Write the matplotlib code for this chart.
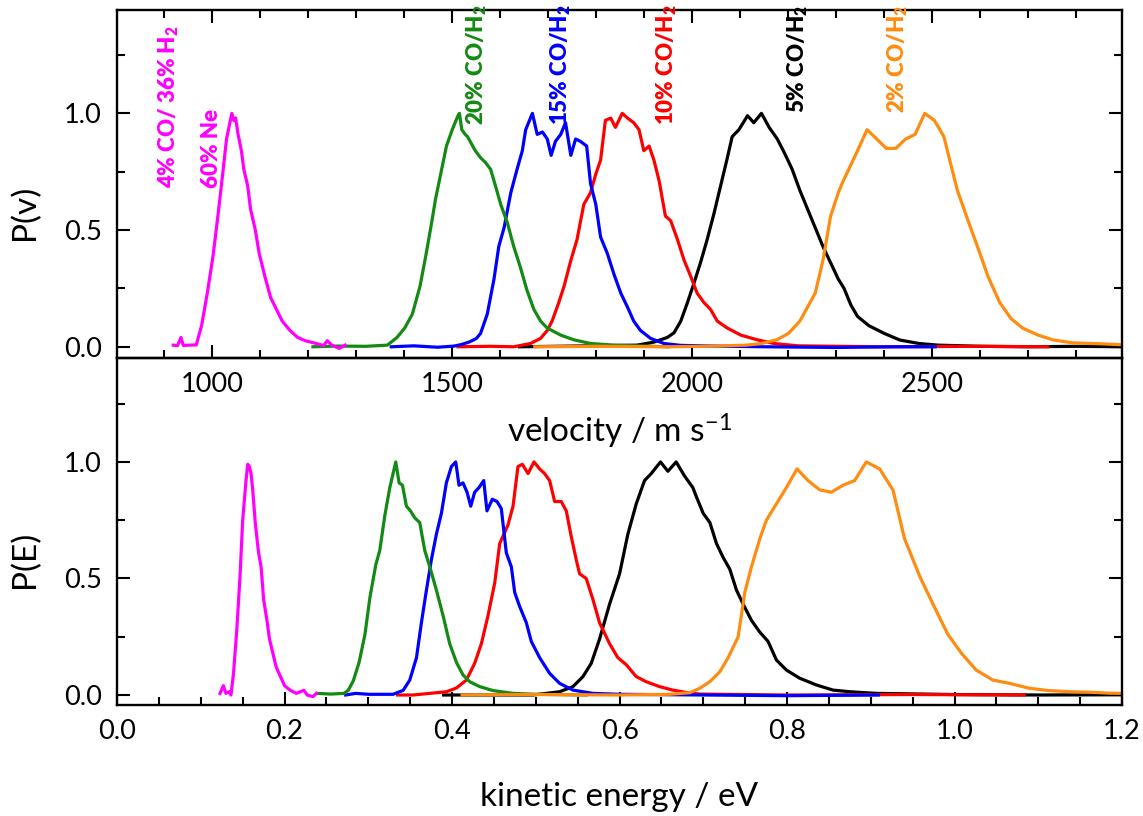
import numpy as np
import matplotlib
matplotlib.use("Agg")
import matplotlib.pyplot as plt
from matplotlib.ticker import MultipleLocator

plt.rcParams['font.family'] = ['Lato', 'DejaVu Sans']
plt.rcParams['mathtext.fontset'] = 'custom'
plt.rcParams['mathtext.rm'] = 'Lato'
plt.rcParams['mathtext.bf'] = 'Lato:heavy'
plt.rcParams['mathtext.it'] = 'Lato:italic'

# velocity distributions, (v [m/s], P(v)) pairs
pv_ne = np.array([
    (919, 0.007), (928, 0.005), (935, 0.04), (940, 0.006), (967, 0.008), (978, 0.09),
    (990, 0.23), (1002, 0.39), (1012, 0.56), (1022, 0.74), (1030, 0.89), (1037, 0.96),
    (1041, 1.0), (1045, 0.97), (1049, 0.98), (1054, 0.91), (1061, 0.84), (1066, 0.76),
    (1074, 0.69), (1080, 0.59), (1090, 0.50), (1098, 0.40), (1110, 0.30), (1122, 0.21),
    (1134, 0.16), (1146, 0.11), (1162, 0.07), (1178, 0.04), (1194, 0.026), (1217, 0.014),
    (1232, 0.005), (1240, 0.026), (1249, 0.007), (1265, -0.007), (1277, 0.007)])
pv_20 = np.array([
    (1210, 0.0), (1260, 0.003), (1320, 0.002), (1365, 0.007), (1385, 0.04), (1401, 0.08),
    (1417, 0.14), (1433, 0.26), (1445, 0.39), (1457, 0.53), (1465, 0.63), (1476, 0.74),
    (1488, 0.86), (1500, 0.93), (1512, 0.99), (1515, 1.0), (1520, 0.93), (1527, 0.91),
    (1532, 0.90), (1540, 0.87), (1548, 0.84), (1559, 0.81), (1569, 0.79), (1580, 0.76),
    (1590, 0.69), (1601, 0.61), (1615, 0.53), (1628, 0.43), (1642, 0.34), (1656, 0.24),
    (1670, 0.16), (1684, 0.11), (1698, 0.08), (1726, 0.05), (1753, 0.03), (1788, 0.014),
    (1837, 0.007), (1900, 0.003), (1950, 0.0)])
pv_15 = np.array([
    (1373, 0.0), (1420, 0.004), (1470, -0.002), (1504, 0.003), (1520, 0.01), (1535, 0.02),
    (1550, 0.035), (1559, 0.057), (1573, 0.14), (1587, 0.29), (1597, 0.43), (1608, 0.51),
    (1622, 0.66), (1635, 0.76), (1646, 0.84), (1653, 0.93), (1667, 1.0), (1677, 0.91),
    (1688, 0.92), (1698, 0.89), (1706, 0.82), (1715, 0.88), (1726, 0.91), (1736, 0.96),
    (1747, 0.82), (1757, 0.89), (1767, 0.88), (1780, 0.86), (1788, 0.70), (1799, 0.61),
    (1809, 0.47), (1823, 0.40), (1837, 0.31), (1851, 0.23), (1865, 0.17), (1878, 0.11),
    (1892, 0.07), (1913, 0.036), (1941, 0.014), (1976, 0.006), (2045, 0.003), (2150, 0.0),
    (2300, -0.003), (2420, 0.0), (2506, 0.0)])
pv_10 = np.array([
    (1512, 0.0), (1580, 0.002), (1628, 0.0), (1663, 0.014), (1684, 0.036), (1698, 0.07),
    (1708, 0.11), (1722, 0.19), (1733, 0.26), (1747, 0.37), (1760, 0.46), (1774, 0.61),
    (1788, 0.66), (1799, 0.74), (1809, 0.80), (1819, 0.97), (1830, 0.98), (1840, 0.94),
    (1854, 1.0), (1865, 0.98), (1878, 0.96), (1889, 0.93), (1899, 0.84), (1910, 0.86),
    (1920, 0.80), (1931, 0.71), (1944, 0.56), (1955, 0.54), (1969, 0.46), (1983, 0.37),
    (1997, 0.30), (2010, 0.23), (2024, 0.19), (2038, 0.16), (2052, 0.11), (2073, 0.08),
    (2101, 0.05), (2135, 0.03), (2170, 0.014), (2221, 0.004), (2400, 0.0), (2600, 0.002),
    (2740, 0.0)])
pv_5 = np.array([
    (1640, 0.0), (1750, 0.003), (1885, 0.007), (1920, 0.02), (1948, 0.04), (1962, 0.06),
    (1976, 0.11), (1990, 0.19), (2003, 0.27), (2017, 0.36), (2031, 0.46), (2045, 0.57),
    (2059, 0.69), (2073, 0.81), (2083, 0.90), (2097, 0.93), (2115, 0.99), (2128, 0.96),
    (2144, 1.0), (2160, 0.94), (2177, 0.89), (2192, 0.83), (2208, 0.76), (2224, 0.67),
    (2240, 0.59), (2256, 0.51), (2272, 0.43), (2288, 0.36), (2304, 0.29), (2316, 0.25),
    (2330, 0.18), (2344, 0.13), (2368, 0.09), (2400, 0.057), (2432, 0.029), (2472, 0.014),
    (2512, 0.007), (2600, 0.002), (2700, 0.0), (2800, 0.002), (2895, 0.0)])
pv_2 = np.array([
    (1672, 0.0), (1800, 0.002), (1950, 0.0), (2050, 0.003), (2112, 0.007), (2144, 0.014),
    (2176, 0.03), (2200, 0.057), (2224, 0.11), (2240, 0.17), (2256, 0.23), (2272, 0.37),
    (2288, 0.56), (2304, 0.66), (2312, 0.70), (2328, 0.77), (2344, 0.84), (2364, 0.93),
    (2384, 0.89), (2404, 0.85), (2424, 0.85), (2444, 0.89), (2464, 0.91), (2484, 1.0),
    (2504, 0.97), (2524, 0.90), (2536, 0.80), (2552, 0.67), (2576, 0.53), (2592, 0.44),
    (2616, 0.30), (2640, 0.19), (2664, 0.12), (2688, 0.08), (2720, 0.05), (2752, 0.029),
    (2792, 0.017), (2832, 0.014), (2872, 0.011), (2905, 0.007)])

# energy distributions, (E [eV], P(E)) pairs
pe_ne = np.array([
    (0.123, 0.007), (0.127, 0.04), (0.130, 0.007), (0.134, 0.014), (0.136, 0.0),
    (0.139, 0.09), (0.143, 0.28), (0.147, 0.52), (0.150, 0.75), (0.154, 0.92),
    (0.156, 0.99), (0.158, 0.98), (0.160, 0.95), (0.162, 0.88), (0.165, 0.74),
    (0.169, 0.61), (0.172, 0.55), (0.175, 0.41), (0.179, 0.32), (0.182, 0.24),
    (0.186, 0.18), (0.190, 0.12), (0.195, 0.08), (0.200, 0.04), (0.207, 0.02),
    (0.214, 0.007), (0.223, 0.02), (0.227, 0.0), (0.234, -0.007), (0.238, 0.007)])
pe_20 = np.array([
    (0.239, 0.007), (0.255, 0.004), (0.271, 0.007), (0.276, 0.02), (0.282, 0.06),
    (0.289, 0.14), (0.296, 0.26), (0.302, 0.42), (0.309, 0.56), (0.3137, 0.62),
    (0.3197, 0.77), (0.3257, 0.89), (0.3328, 1.0), (0.3368, 0.91), (0.3408, 0.90),
    (0.3455, 0.81), (0.3503, 0.79), (0.3555, 0.76), (0.3614, 0.74), (0.3674, 0.62),
    (0.3734, 0.55), (0.3813, 0.45), (0.3893, 0.34), (0.3972, 0.22), (0.4052, 0.14),
    (0.4131, 0.086), (0.4211, 0.057), (0.4330, 0.036), (0.4489, 0.019), (0.4728, 0.007),
    (0.5006, 0.003), (0.56, 0.0)])
pe_15 = np.array([
    (0.273, 0.0), (0.285, 0.007), (0.300, 0.003), (0.3296, 0.003), (0.3416, 0.02),
    (0.3495, 0.064), (0.3575, 0.16), (0.3634, 0.31), (0.3694, 0.45), (0.3753, 0.58),
    (0.3813, 0.69), (0.3873, 0.78), (0.3932, 0.91), (0.3992, 0.98), (0.4044, 1.0),
    (0.4083, 0.90), (0.4131, 0.91), (0.4179, 0.87), (0.4223, 0.81), (0.4270, 0.87),
    (0.4322, 0.89), (0.4378, 0.92), (0.4417, 0.79), (0.4481, 0.84), (0.4537, 0.83),
    (0.4588, 0.80), (0.4648, 0.61), (0.4708, 0.55), (0.4748, 0.44), (0.4807, 0.38),
    (0.4887, 0.31), (0.4946, 0.23), (0.5046, 0.16), (0.5165, 0.093), (0.5284, 0.05),
    (0.5443, 0.021), (0.5682, 0.007), (0.60, 0.003), (0.70, 0.0), (0.80, -0.003),
    (0.909, 0.0)])
pe_10 = np.array([
    (0.335, 0.0), (0.3535, 0.0), (0.3932, 0.014), (0.4052, 0.03), (0.4171, 0.064),
    (0.4270, 0.136), (0.4350, 0.22), (0.4429, 0.34), (0.4509, 0.48), (0.4569, 0.65),
    (0.4668, 0.73), (0.4728, 0.81), (0.4787, 0.98), (0.4839, 0.99), (0.4907, 0.95),
    (0.4978, 1.0), (0.5046, 0.97), (0.5105, 0.95), (0.5165, 0.92), (0.5225, 0.83),
    (0.5304, 0.83), (0.5364, 0.79), (0.5423, 0.68), (0.5483, 0.58), (0.5523, 0.52),
    (0.5602, 0.50), (0.5682, 0.41), (0.5761, 0.31), (0.5881, 0.22), (0.5980, 0.16),
    (0.6080, 0.13), (0.6199, 0.079), (0.6318, 0.057), (0.6477, 0.036), (0.6636, 0.021),
    (0.6795, 0.011), (0.6954, 0.004), (0.80, 0.0), (0.95, 0.002), (1.083, 0.0)])
pe_5 = np.array([
    (0.39, 0.0), (0.4966, 0.0), (0.5284, 0.014), (0.5443, 0.036), (0.5563, 0.079),
    (0.5662, 0.136), (0.5761, 0.24), (0.5881, 0.39), (0.6000, 0.52), (0.6099, 0.69),
    (0.6199, 0.82), (0.6298, 0.92), (0.6378, 0.95), (0.6489, 1.0), (0.6577, 0.96),
    (0.6676, 1.0), (0.6775, 0.94), (0.6875, 0.89), (0.6918, 0.85), (0.6998, 0.78),
    (0.7078, 0.74), (0.7157, 0.65), (0.7237, 0.59), (0.7316, 0.54), (0.7396, 0.45),
    (0.7475, 0.39), (0.7575, 0.32), (0.7674, 0.27), (0.7773, 0.23), (0.7873, 0.15),
    (0.7992, 0.107), (0.8151, 0.072), (0.8350, 0.043), (0.8549, 0.021), (0.8748, 0.014),
    (0.9066, 0.007), (1.0, 0.002), (1.1, 0.0), (1.2, 0.001)])
pe_2 = np.array([
    (0.412, 0.0), (0.50, 0.002), (0.60, 0.0), (0.66, 0.003), (0.6839, 0.01),
    (0.6958, 0.029), (0.7078, 0.057), (0.7197, 0.10), (0.7296, 0.16), (0.7416, 0.25),
    (0.7495, 0.44), (0.7575, 0.55), (0.7674, 0.67), (0.7753, 0.75), (0.7873, 0.82),
    (0.7992, 0.89), (0.8119, 0.97), (0.8250, 0.92), (0.8390, 0.88), (0.8529, 0.87),
    (0.8668, 0.90), (0.8807, 0.92), (0.8946, 1.0), (0.9105, 0.97), (0.9264, 0.88),
    (0.9403, 0.67), (0.9583, 0.51), (0.9742, 0.39), (0.9920, 0.26), (1.0080, 0.18),
    (1.0258, 0.107), (1.0457, 0.064), (1.0656, 0.05), (1.089, 0.029), (1.112, 0.019),
    (1.139, 0.014), (1.161, 0.012), (1.184, 0.008), (1.2, 0.007)])

# drawing order: black first, orange on top
series_v = [pv_5, pv_10, pv_15, pv_20, pv_ne, pv_2]
series_e = [pe_5, pe_10, pe_15, pe_20, pe_ne, pe_2]
colors = ['black', '#ff0000', '#0000ff', '#138a13', '#ff00ff', '#ff8c10']

fig = plt.figure(figsize=(11.43, 8.16), dpi=100)
ax2 = fig.add_axes([0.1024, 0.1360, 0.8793, 0.4253])
ax1 = fig.add_axes([0.1024, 0.5613, 0.8793, 0.4265])
ax1.patch.set_visible(False)

for d, c in zip(series_v, colors):
    ax1.plot(d[:, 0], d[:, 1], color=c, lw=2.3)
for d, c in zip(series_e, colors):
    ax2.plot(d[:, 0], d[:, 1], color=c, lw=2.3)

ax1.set_xlim(802, 2895)
ax1.set_ylim(-0.048, 1.443)
ax2.set_xlim(0, 1.2)
ax2.set_ylim(-0.043, 1.446)

ax1.xaxis.set_major_locator(MultipleLocator(500))
ax1.xaxis.set_minor_locator(MultipleLocator(100))
ax2.xaxis.set_major_locator(MultipleLocator(0.2))
ax2.xaxis.set_minor_locator(MultipleLocator(0.05))
ax2.xaxis.set_major_formatter(plt.FormatStrFormatter('%.1f'))
for ax in (ax1, ax2):
    ax.yaxis.set_major_locator(MultipleLocator(0.5))
    ax.yaxis.set_minor_locator(MultipleLocator(0.25))
    ax.yaxis.set_major_formatter(plt.FormatStrFormatter('%.1f'))
    for s in ax.spines.values():
        s.set_linewidth(1.7)
    ax.tick_params(which='both', direction='in', width=1.5, labelsize=19.5, right=True)
    ax.tick_params(which='major', length=9.5)
    ax.tick_params(which='minor', length=5.5)
    ax.tick_params(axis='y', pad=11)
    ax.tick_params(axis='x', pad=10)
ax1.tick_params(which='both', top=True)
ax2.tick_params(which='both', top=False)

# mixture labels
lab = dict(rotation=90, ha='center', va='bottom', fontsize=16, fontweight='heavy')
ax1.text(909, 0.68, '4% CO/ 36% H$_\\mathbf{2}$', color='#ff00ff', **lab)
ax1.text(998, 0.68, '60% Ne', color='#ff00ff', **lab)
ax1.text(1552, 0.95, '20% CO/H$_\\mathbf{2}$', color='#138a13', **lab)
ax1.text(1727, 0.95, '15% CO/H$_\\mathbf{2}$', color='#0000ff', **lab)
ax1.text(1946, 0.95, '10% CO/H$_\\mathbf{2}$', color='#ff0000', **lab)
ax1.text(2220, 1.0, '5% CO/H$_\\mathbf{2}$', color='black', **lab)
ax1.text(2429, 1.0, '2% CO/H$_\\mathbf{2}$', color='#ff8c10', **lab)

W, H = 1143, 816
fig.text(25 / W, 1 - 212 / H, 'P(v)', rotation=90, ha='center', va='center', fontsize=24)
fig.text(25 / W, 1 - 559 / H, 'P(E)', rotation=90, ha='center', va='center', fontsize=24)
fig.text(619.5 / W, 1 - 443 / H, 'velocity / m s$^{\\mathrm{-1}}$', ha='center', va='baseline', fontsize=24)
fig.text(619.5 / W, 1 - 806 / H, 'kinetic energy / eV', ha='center', va='baseline', fontsize=24)

fig.savefig('out.png', dpi=100)
